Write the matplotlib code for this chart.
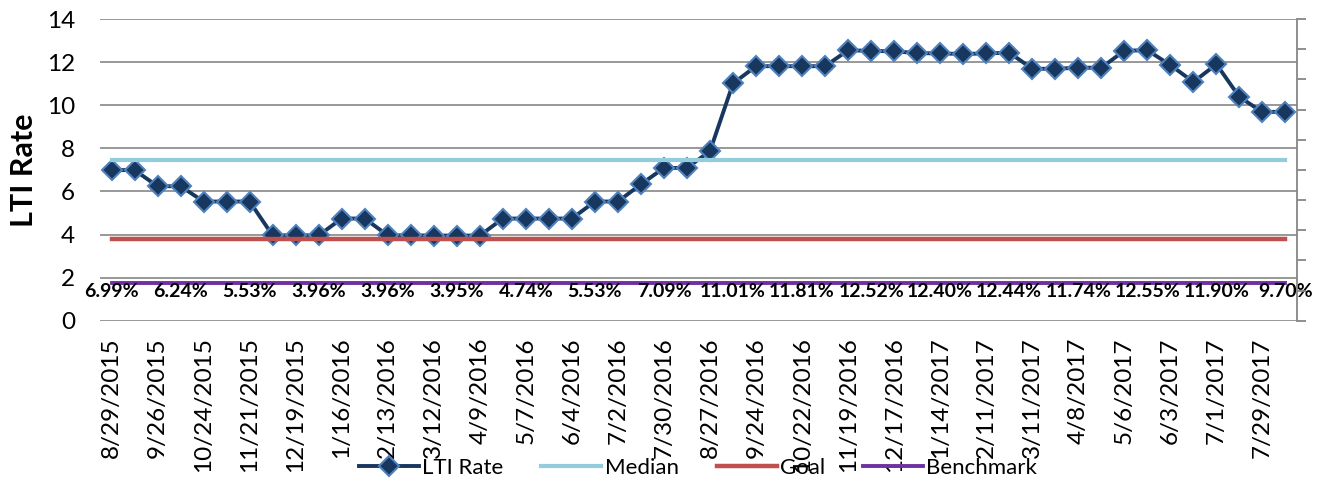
import matplotlib
matplotlib.use("Agg")
import matplotlib.pyplot as plt
from matplotlib.lines import Line2D

plt.rcParams["font.family"] = ["Lato", "DejaVu Sans"]

# LTI rate, every two weeks from 8/29/2015
lti_rate = [6.99, 6.99, 6.24, 6.24, 5.53, 5.53, 5.53, 3.96, 3.96, 3.96,
            4.74, 4.74, 3.96, 3.96, 3.95, 3.95, 3.95, 4.74, 4.74, 4.74,
            4.74, 5.53, 5.53, 6.33, 7.09, 7.09, 7.87, 11.01, 11.81, 11.81,
            11.81, 11.81, 12.55, 12.52, 12.50, 12.42, 12.40, 12.38, 12.40, 12.44,
            11.69, 11.69, 11.74, 11.74, 12.53, 12.55, 11.86, 11.08, 11.90, 10.38,
            9.68, 9.70]
median = 7.48
goal = 3.81
benchmark = 1.77

tick_labels = ["8/29/2015", "9/26/2015", "10/24/2015", "11/21/2015", "12/19/2015",
               "1/16/2016", "2/13/2016", "3/12/2016", "4/9/2016", "5/7/2016",
               "6/4/2016", "7/2/2016", "7/30/2016", "8/27/2016", "9/24/2016",
               "10/22/2016", "11/19/2016", "12/17/2016", "1/14/2017", "2/11/2017",
               "3/11/2017", "4/8/2017", "5/6/2017", "6/3/2017", "7/1/2017",
               "7/29/2017"]

n = len(lti_rate)
x = list(range(n))

fig = plt.figure(figsize=(13.19, 4.83), dpi=100)
ax = fig.add_axes([100 / 1319, 1 - 320.7 / 483, 1197 / 1319, 301.7 / 483])

ax.plot(x, lti_rate, color="#17375E", lw=2.8, marker="D", ms=10,
        mfc="#17375E", mec="#4F81BD", mew=1.5, zorder=3)
ax.plot(x, [median] * n, color="#93CDDD", lw=3, zorder=4)
ax.plot(x, [goal] * n, color="#C0504D", lw=3.2, zorder=4)
ax.plot(x, [benchmark] * n, color="#7030A0", lw=2.8, zorder=4)

# data labels (every third point) sit under the benchmark line
for i in range(0, n, 3):
    ax.annotate(f"{lti_rate[i]:.2f}%", (i, benchmark), xytext=(0, -6.5),
                textcoords="offset points", ha="center", va="center",
                fontsize=14, fontweight="bold", color="black", zorder=5)

ax.set_xlim(-0.5, n - 0.5)
ax.set_ylim(0, 14)
ax.set_yticks(range(0, 15, 2))
ax.set_xticks(range(0, n, 2))
ax.set_xticklabels(tick_labels, rotation=90, ha="center", va="top")
ax.tick_params(axis="x", length=0, pad=12, labelsize=17.5)
ax.tick_params(axis="y", length=0, pad=18, labelsize=17.5)
ax.grid(axis="y", color="#868686", lw=1.2)
ax.set_axisbelow(True)
for s in ["left", "top", "bottom", "right"]:
    ax.spines[s].set_visible(False)
ax.set_ylabel("LTI Rate", fontsize=22, fontweight="bold", labelpad=6)

# empty secondary axis on the right
ax2 = ax.twinx()
ax2.set_ylim(0, 10)
ax2.set_yticks(range(0, 11))
ax2.set_yticklabels([])
ax2.tick_params(axis="y", direction="out", length=6.5, width=1.3, color="#868686")
for s in ["left", "top", "bottom"]:
    ax2.spines[s].set_visible(False)
ax2.spines["right"].set_color("#868686")
ax2.spines["right"].set_linewidth(1.3)

handles = [
    Line2D([], [], color="#17375E", lw=2.8, marker="D", ms=10, mfc="#17375E",
           mec="#4F81BD", mew=1.5),
    Line2D([], [], color="#93CDDD", lw=3),
    Line2D([], [], color="#C0504D", lw=3.2),
    Line2D([], [], color="#7030A0", lw=2.8),
]
fig.legend(handles, ["LTI Rate", "Median", "Goal", "Benchmark"], loc="center",
           bbox_to_anchor=(698 / 1319, 1 - 468 / 483), ncol=4, frameon=False,
           fontsize=16, handlelength=2.7, handletextpad=0.15, columnspacing=1.7)

fig.savefig("out.png", dpi=100)
